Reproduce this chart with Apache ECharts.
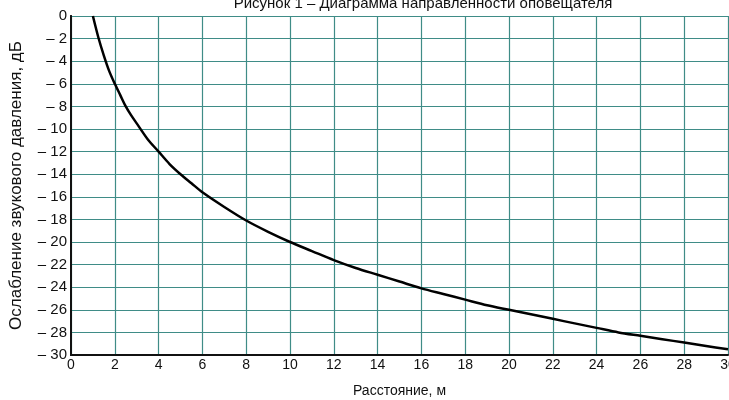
<!DOCTYPE html>
<html><head><meta charset="utf-8">
<script src="https://cdn.jsdelivr.net/npm/echarts@6/dist/echarts.min.js"></script>
<style>html,body{margin:0;padding:0;background:#fff}#c{width:729px;height:400px}</style>
</head><body><div id="c"></div>
<script>
var titleText = 'Рисунок 1 – Диаграмма направленности оповещателя';
var xName = 'Расстояние, м';
var yName = 'Ослабление звукового давления, дБ';
var distance = [1, 1.25, 1.5, 1.75, 2, 2.25, 2.5, 2.75, 3, 3.5, 4, 4.5, 5, 5.5, 6, 7, 8, 9, 10, 11, 12, 13, 14, 15, 16, 17, 18, 19, 20, 21, 22, 23, 24, 25, 26, 27, 28, 29, 30];
var attenuation = [0, -1.9, -3.5, -4.9, -6.0, -7.0, -8.0, -8.8, -9.5, -10.9, -12.0, -13.1, -14.0, -14.8, -15.6, -16.9, -18.1, -19.1, -20.0, -20.8, -21.6, -22.3, -22.9, -23.5, -24.1, -24.6, -25.1, -25.6, -26.0, -26.4, -26.8, -27.2, -27.6, -28.0, -28.3, -28.6, -28.9, -29.2, -29.5];

var pts = distance.map(function (d, i) { return [d, attenuation[i]]; });
var grid = '#3f8c87';
var chart = echarts.init(document.getElementById('c'));
chart.setOption({
  animation: false,
  title: { text: titleText, left: 418, textAlign: 'center', top: -9,
    textStyle: { fontFamily: 'Liberation Sans, Arial, sans-serif', fontSize: 15, fontWeight: 'normal', color: '#111' } },
  grid: { left: 71, right: 1, top: 16, bottom: 45, outerBoundsMode: 'none', containLabel: false },
  xAxis: {
    type: 'value', min: 0, max: 30, interval: 2,
    name: xName, nameLocation: 'middle', nameGap: 29,
    nameTextStyle: { fontFamily: 'Liberation Sans, Arial, sans-serif', fontSize: 14, color: '#111' },
    axisLine: { show: true, onZero: false, lineStyle: { color: '#111', width: 2 } },
    axisTick: { show: false },
    axisLabel: { margin: 3, fontFamily: 'Liberation Sans, Arial, sans-serif', fontSize: 14, color: '#111' },
    splitLine: { show: true, lineStyle: { color: grid, width: 1.2 } }
  },
  yAxis: [{
    type: 'value', min: -30, max: 0, interval: 2,
    name: yName, nameLocation: 'middle', nameGap: 46,
    nameTextStyle: { fontFamily: 'Liberation Sans, Arial, sans-serif', fontSize: 17, color: '#111' },
    axisLine: { show: true, onZero: false, lineStyle: { color: '#111', width: 2 } },
    axisTick: { show: false },
    axisLabel: { margin: 4, fontFamily: 'Liberation Sans, Arial, sans-serif', fontSize: 15, color: '#111',
      formatter: function (v) { return v === 0 ? '0' : '– ' + Math.abs(v); } },
    splitLine: { show: true, lineStyle: { color: grid, width: 1.2 } }
  }, {
    type: 'value', min: -30, max: 0, interval: 2, position: 'right',
    axisLine: { show: true, lineStyle: { color: '#111', width: 2 } },
    axisTick: { show: false }, axisLabel: { show: false }, splitLine: { show: false }
  }],
  series: [{
    type: 'line', data: pts, smooth: 0.3, showSymbol: false,
    lineStyle: { color: '#000', width: 2.5 }
  }]
});
</script></body></html>
